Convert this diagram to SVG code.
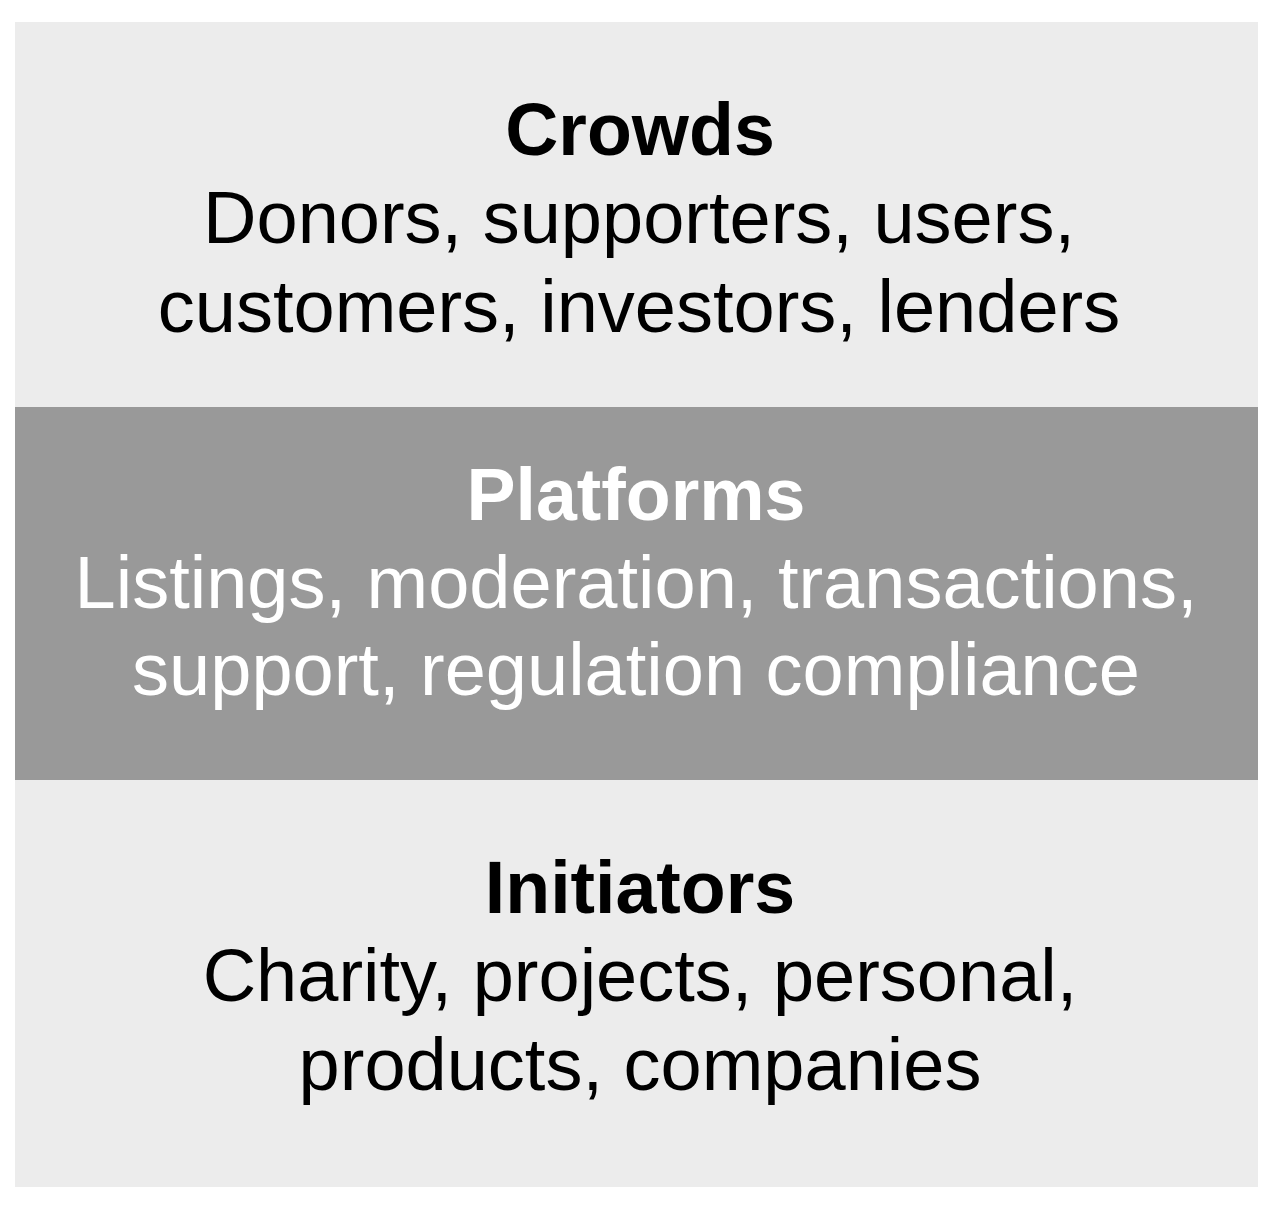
<svg xmlns="http://www.w3.org/2000/svg" width="1280" height="1205" viewBox="0 0 1280 1205">
<style>
.t{font-family:"Liberation Sans",Arial,sans-serif;font-size:74px;text-anchor:middle}
.b{font-weight:bold;font-size:73.5px}
.dk{fill:#000}
.wh{fill:#fff}
</style>
<rect width="1280" height="1205" fill="#fff"/>
<g id="crowds">
<rect x="15" y="22" width="1243" height="385" fill="#ececec"/>
<text class="t b dk" x="640" y="155">Crowds</text>
<text class="t dk" x="639" y="243">Donors, supporters, users,</text>
<text class="t dk" x="639" y="332">customers, investors, lenders</text>
</g>
<g id="platforms">
<rect x="15" y="407" width="1243" height="373" fill="#999999"/>
<text class="t b wh" x="636" y="520">Platforms</text>
<text class="t wh" x="636" y="608">Listings, moderation, transactions,</text>
<text class="t wh" x="636" y="695">support, regulation compliance</text>
</g>
<g id="initiators">
<rect x="15" y="780" width="1243" height="407" fill="#ececec"/>
<text class="t b dk" x="640" y="913">Initiators</text>
<text class="t dk" x="640" y="1001">Charity, projects, personal,</text>
<text class="t dk" x="640" y="1090">products, companies</text>
</g>
<g id="connectors"/>
</svg>
